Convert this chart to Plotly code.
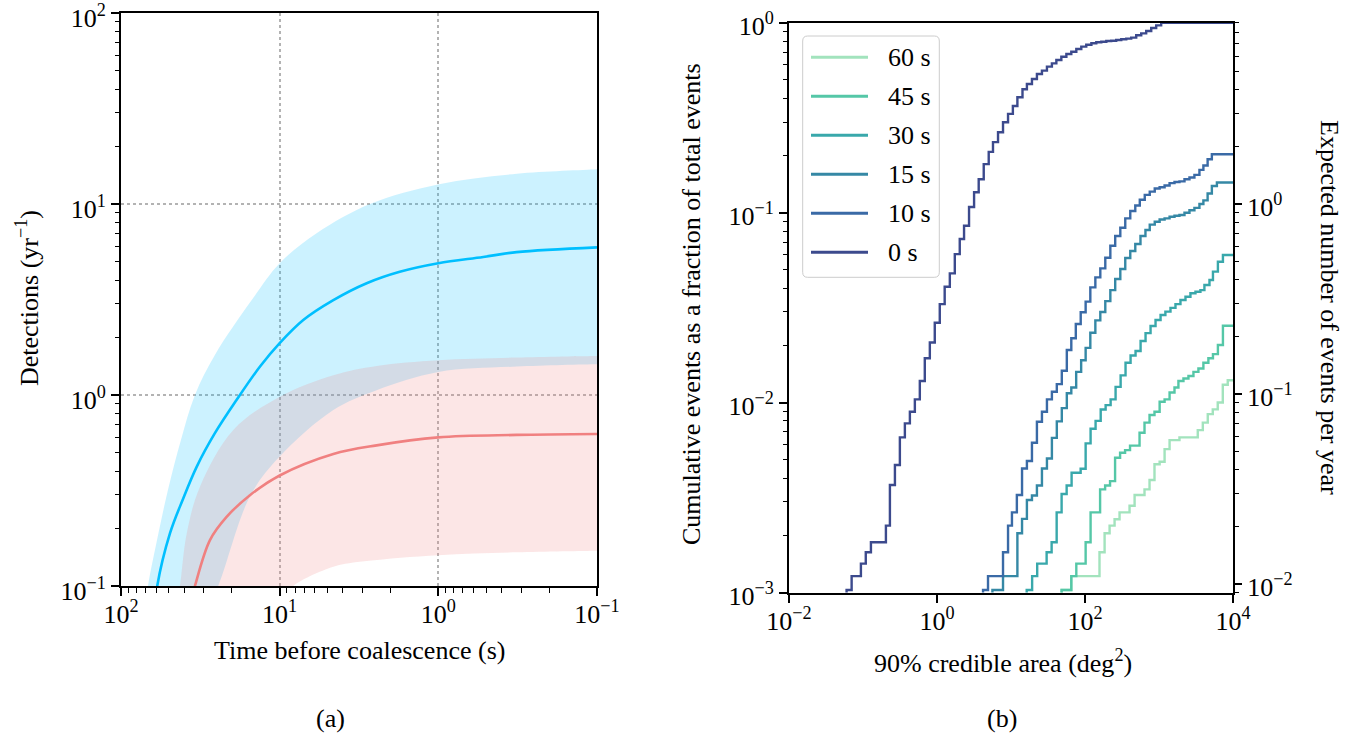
import math
import plotly.graph_objects as go

# ---------------- Panel (a) data ----------------
# blue curve (median) and band
t_blue = [63, 59.1, 49.1, 40.9, 33.3, 25.6, 18.7, 13.3, 10.0, 7.10, 4.59, 2.83, 1.75, 1.00, 0.521, 0.321, 0.100]
y_blue = [0.06, 0.100, 0.189, 0.282, 0.422, 0.631, 0.942, 1.41, 1.87, 2.47, 3.14, 3.85, 4.42, 4.90, 5.28, 5.60, 5.93]

t_blue_hi = [70.6, 67.6, 59.3, 50.6, 41.9, 34.2, 25.6, 15.0, 10.0, 5.82, 2.70, 0.99, 0.320, 0.100, 0.09]
y_blue_hi = [0.075, 0.100, 0.174, 0.318, 0.581, 1.00, 1.62, 3.14, 4.90, 7.05, 10.0, 12.7, 14.4, 15.2, 15.3]
t_blue_lo = [29.0, 24.4, 15.4, 10.0, 4.59, 2.45, 1.00, 0.321, 0.100, 0.09]
y_blue_lo = [0.075, 0.100, 0.294, 0.476, 0.834, 1.06, 1.32, 1.41, 1.45, 1.45]

# red curve (median) and band
t_red = [36.0, 34.2, 27.5, 21.6, 15.4, 10.0, 4.59, 2.45, 1.00, 0.321, 0.100]
y_red = [0.085, 0.100, 0.174, 0.230, 0.299, 0.379, 0.491, 0.545, 0.600, 0.618, 0.625]

t_red_hi = [45.0, 42.5, 38.5, 31.8, 19.6, 10.0, 4.59, 2.45, 1.00, 0.321, 0.100, 0.09]
y_red_hi = [0.075, 0.100, 0.189, 0.331, 0.656, 0.98, 1.27, 1.42, 1.52, 1.57, 1.60, 1.60]
t_red_lo = [9.0, 8.2, 4.59, 2.83, 1.00, 0.321, 0.100, 0.09]
y_red_lo = [0.09, 0.100, 0.126, 0.135, 0.145, 0.150, 0.153, 0.153]

# ---------------- Panel (b) data (cumulative step curves) ----------------
labels_b = ["60 s", "45 s", "30 s", "15 s", "10 s", "0 s"]
colors_b = ["#a2e3bd", "#55c7a7", "#39a8ab", "#3588a5", "#3a6aa6", "#3c4a8d"]

s60_x = [42, 48.3, 65.3, 157, 184, 215, 251, 293, 400, 468, 637, 745, 869, 1020, 1190, 1390, 1890, 3340, 3910, 4560, 5330, 6220, 7280, 8490, 10000]
s60_y = [0.0005, 0.00103, 0.00122, 0.00163, 0.00205, 0.00225, 0.00243, 0.00264, 0.00286, 0.00326, 0.00349, 0.00391, 0.00473, 0.00488, 0.00569, 0.00634, 0.00656, 0.00716, 0.00784, 0.00869, 0.00921, 0.0100, 0.0124, 0.0131, 0.0131]

s45_x = [42, 48.3, 65.3, 76.3, 102, 119, 160, 187, 218, 255, 298, 348, 406, 546, 637, 745, 869, 1020, 1190, 1390, 1620, 1830, 2140, 2500, 2920, 3410, 3980, 4650, 5360, 6250, 7310, 10000]
s45_y = [0.0005, 0.00103, 0.00122, 0.00142, 0.00184, 0.00264, 0.00349, 0.00366, 0.00386, 0.00512, 0.00544, 0.00562, 0.00593, 0.00694, 0.00784, 0.00860, 0.00895, 0.0101, 0.0104, 0.0113, 0.0120, 0.0130, 0.0134, 0.0138, 0.0145, 0.0151, 0.0162, 0.0171, 0.0180, 0.0201, 0.0254, 0.0254]

s30_x = [14, 16.3, 19.3, 22.6, 30.3, 35.4, 41.4, 48.3, 56.5, 65.9, 87.3, 102, 119, 139, 163, 190, 222, 259, 303, 353, 413, 482, 564, 658, 769, 898, 1050, 1220, 1430, 1670, 1950, 2280, 2660, 3110, 3630, 4110, 4810, 5360, 6250, 7310, 10000]
s30_y = [0.0005, 0.00103, 0.00122, 0.00142, 0.00163, 0.00184, 0.00264, 0.00330, 0.00366, 0.00427, 0.00448, 0.00610, 0.00728, 0.00801, 0.00919, 0.00970, 0.0104, 0.0121, 0.0139, 0.0162, 0.0177, 0.0187, 0.0211, 0.0232, 0.0253, 0.0272, 0.0289, 0.0301, 0.0315, 0.0330, 0.0347, 0.0361, 0.0376, 0.0383, 0.0391, 0.0416, 0.0442, 0.0489, 0.0551, 0.0598, 0.0598]

s15_x = [4.8, 5.61, 7.80, 12.2, 14.1, 16.4, 19.2, 22.4, 26.2, 30.6, 35.7, 41.6, 48.6, 56.8, 65.3, 76.0, 88.7, 102, 118, 138, 161, 188, 220, 256, 300, 350, 409, 478, 562, 656, 750, 876, 1020, 1190, 1390, 1620, 1890, 2210, 2580, 3010, 3520, 3980, 4540, 5180, 6060, 10000]
s15_y = [0.0005, 0.00103, 0.00122, 0.00205, 0.00244, 0.00307, 0.00324, 0.00366, 0.00450, 0.00508, 0.00652, 0.00796, 0.00935, 0.0112, 0.0120, 0.0145, 0.0167, 0.0194, 0.0233, 0.0271, 0.0300, 0.0342, 0.0391, 0.0447, 0.0505, 0.0577, 0.0628, 0.0684, 0.0753, 0.0810, 0.0865, 0.0895, 0.0920, 0.0933, 0.0951, 0.0963, 0.0971, 0.0998, 0.103, 0.106, 0.111, 0.116, 0.126, 0.138, 0.144, 0.144]

s10_x = [3.5, 4.19, 4.89, 7.80, 9.12, 10.3, 12.0, 14.1, 16.4, 19.2, 22.4, 26.2, 30.6, 35.7, 41.6, 48.6, 56.8, 65.3, 75.1, 87.5, 102, 118, 138, 161, 188, 220, 256, 300, 350, 409, 478, 550, 642, 750, 876, 1020, 1190, 1390, 1620, 1890, 2210, 2580, 3010, 3520, 3980, 4540, 5180, 10000]
s10_y = [0.0005, 0.00103, 0.00122, 0.00163, 0.00225, 0.00264, 0.00326, 0.00450, 0.00492, 0.00614, 0.00792, 0.00895, 0.0104, 0.0114, 0.0125, 0.0147, 0.0189, 0.0218, 0.0259, 0.0299, 0.0340, 0.0404, 0.0456, 0.0509, 0.0579, 0.0669, 0.0753, 0.0832, 0.0933, 0.102, 0.109, 0.117, 0.124, 0.129, 0.134, 0.136, 0.139, 0.143, 0.145, 0.146, 0.150, 0.153, 0.158, 0.168, 0.177, 0.191, 0.203, 0.203]

s0_x = [0.050, 0.0600, 0.0702, 0.0937, 0.109, 0.128, 0.204, 0.231, 0.270, 0.315, 0.368, 0.430, 0.502, 0.586, 0.684, 0.800, 0.933, 1.09, 1.27, 1.49, 1.74, 2.03, 2.32, 2.71, 3.17, 3.66, 4.28, 5.00, 5.71, 6.68, 7.80, 9.12, 10.6, 12.2, 14.3, 16.4, 19.2, 22.4, 26.2, 30.6, 35.7, 41.0, 47.9, 56.0, 65.3, 76.3, 89.1, 104, 122, 142, 166, 194, 226, 264, 309, 361, 421, 492, 575, 671, 785, 916, 1070, 10000]
s0_y = [0.0005, 0.00103, 0.00122, 0.00142, 0.00163, 0.00184, 0.00225, 0.00368, 0.00469, 0.00656, 0.00777, 0.00895, 0.0104, 0.0130, 0.0171, 0.0207, 0.0263, 0.0330, 0.0407, 0.0479, 0.0605, 0.0726, 0.0853, 0.107, 0.128, 0.150, 0.180, 0.209, 0.235, 0.265, 0.299, 0.331, 0.364, 0.405, 0.446, 0.476, 0.505, 0.537, 0.559, 0.587, 0.611, 0.636, 0.662, 0.684, 0.703, 0.727, 0.748, 0.766, 0.779, 0.789, 0.794, 0.801, 0.804, 0.811, 0.818, 0.824, 0.834, 0.859, 0.879, 0.904, 0.938, 0.968, 1.0, 1.0]

steps_x = [s60_x, s45_x, s30_x, s15_x, s10_x, s0_x]
steps_y = [s60_y, s45_y, s30_y, s15_y, s10_y, s0_y]

# total expected events per year (scale of the secondary axis)
events_total = 9.0

# ---------------- Figure ----------------
FONT = "Liberation Serif"
FS = 26
W, H = 1359, 738

fig = go.Figure()

# panel (a): bands
fig.add_trace(go.Scatter(x=t_blue_hi + t_blue_lo[::-1], y=y_blue_hi + y_blue_lo[::-1],
                         fill="toself", fillcolor="rgba(0,191,255,0.2)", line=dict(width=0, shape="spline", smoothing=1.0),
                         mode="lines", showlegend=False, hoverinfo="skip", xaxis="x", yaxis="y"))
fig.add_trace(go.Scatter(x=t_red_hi + t_red_lo[::-1], y=y_red_hi + y_red_lo[::-1],
                         fill="toself", fillcolor="rgba(240,128,128,0.2)", line=dict(width=0, shape="spline", smoothing=1.0),
                         mode="lines", showlegend=False, hoverinfo="skip", xaxis="x", yaxis="y"))
fig.add_trace(go.Scatter(x=t_blue, y=y_blue, mode="lines", line=dict(color="#00bfff", width=2.6, shape="spline", smoothing=1.0),
                         showlegend=False, xaxis="x", yaxis="y"))
fig.add_trace(go.Scatter(x=t_red, y=y_red, mode="lines", line=dict(color="#f08080", width=2.6, shape="spline", smoothing=1.0),
                         showlegend=False, xaxis="x", yaxis="y"))

# panel (b): cumulative step curves
for lab, col, xs, ys in zip(labels_b, colors_b, steps_x, steps_y):
    fig.add_trace(go.Scatter(x=xs, y=ys, mode="lines", name=lab, showlegend=False,
                             line=dict(color=col, width=2.4, shape="hv"),
                             xaxis="x2", yaxis="y2"))
# invisible trace to activate the secondary axis (expected events per year)
fig.add_trace(go.Scatter(x=[1], y=[events_total * 0.1], mode="markers", marker=dict(opacity=0), showlegend=False,
                         hoverinfo="skip", xaxis="x2", yaxis="y3"))


def sup(e):
    return "10<sup>" + ("\u2212" if e < 0 else "") + str(abs(e)) + "</sup>"


def minors(lo, hi):
    return [m * 10 ** e for e in range(lo, hi) for m in range(2, 10)]


def px_x(a, b):
    return [a / W, b / W]


def px_y(top, bottom):
    return [1 - bottom / H, 1 - top / H]


tick_common = dict(ticks="outside", ticklen=8, tickwidth=1.8, tickcolor="black",
                   showline=True, linecolor="black", linewidth=2, mirror=True, automargin=False,
                   ticklabeloverflow="allow",
                   tickfont=dict(family=FONT, size=FS, color="black"), zeroline=False)
minor_common = dict(ticks="outside", ticklen=4.5, tickwidth=1.2, tickcolor="black", showgrid=False)
grid_common = dict(showgrid=True, gridcolor="#b3b3b3", gridwidth=1.6, griddash="dot")

fig.update_layout(
    template="none",
    width=W, height=H, margin=dict(l=0, r=0, t=0, b=0, pad=0), autosize=False,
    paper_bgcolor="white", plot_bgcolor="white",
    font=dict(family=FONT, size=FS, color="black"),
    showlegend=False,
    xaxis=dict(type="log", range=[2, -1], domain=px_x(121, 597), anchor="y", ticklabelstandoff=-4,
               tickmode="array", tickvals=[100, 10, 1, 0.1], ticktext=[sup(2), sup(1), sup(0), sup(-1)],
               minor=dict(tickvals=minors(-1, 2), **minor_common), **grid_common, **tick_common),
    yaxis=dict(type="log", range=[-1, 2], domain=px_y(13, 586), anchor="x", ticklabelshift=5,
               tickmode="array", tickvals=[0.1, 1, 10, 100], ticktext=[sup(-1), sup(0), sup(1), sup(2)],
               minor=dict(tickvals=minors(-1, 2), **minor_common), **grid_common, **tick_common),
    xaxis2=dict(type="log", range=[-2, 4], domain=px_x(789, 1233), anchor="y2", ticklabelstandoff=-4,
                tickmode="array", tickvals=[0.01, 1, 100, 10000], ticktext=[sup(-2), sup(0), sup(2), sup(4)],
                showgrid=False, **tick_common),
    yaxis2=dict(type="log", range=[-3, 0], domain=px_y(22.7, 592.5), anchor="x2", ticklabelshift=3,
                tickmode="array", tickvals=[0.001, 0.01, 0.1, 1], ticktext=[sup(-3), sup(-2), sup(-1), sup(0)],
                minor=dict(tickvals=minors(-3, 0), **minor_common), showgrid=False, **tick_common),
    yaxis3=dict(type="log", overlaying="y2", side="right", anchor="x2", automargin=False, ticklabelshift=3,
                range=[-3 + math.log10(events_total), math.log10(events_total)],
                tickmode="array", tickvals=[0.01, 0.1, 1], ticktext=[sup(-2), sup(-1), sup(0)],
                minor=dict(tickvals=minors(-3, 1), **minor_common), ticklabeloverflow="allow",
                ticks="outside", ticklen=8, tickwidth=1.8, tickcolor="black", showline=False,
                tickfont=dict(family=FONT, size=FS, color="black"), showgrid=False, zeroline=False),
)

# legend for panel (b), drawn as a framed box with line samples
LX0, LX1, LY0, LY1, R = 802.7, 939.3, 36.0, 277.3, 5.0


def fx(v):
    return v / W


def fy(v):
    return 1 - v / H


box_path = (f"M{fx(LX0 + R)},{fy(LY0)} L{fx(LX1 - R)},{fy(LY0)} Q{fx(LX1)},{fy(LY0)} {fx(LX1)},{fy(LY0 + R)} "
            f"L{fx(LX1)},{fy(LY1 - R)} Q{fx(LX1)},{fy(LY1)} {fx(LX1 - R)},{fy(LY1)} "
            f"L{fx(LX0 + R)},{fy(LY1)} Q{fx(LX0)},{fy(LY1)} {fx(LX0)},{fy(LY1 - R)} "
            f"L{fx(LX0)},{fy(LY0 + R)} Q{fx(LX0)},{fy(LY0)} {fx(LX0 + R)},{fy(LY0)} Z")
fig.add_shape(type="path", path=box_path, xref="paper", yref="paper",
              fillcolor="rgba(255,255,255,0.85)", line=dict(color="#cccccc", width=1), layer="above")
for i, (lab, col) in enumerate(zip(labels_b, colors_b)):
    yc = 57.3 + 39.0 * i
    fig.add_shape(type="line", xref="paper", yref="paper", x0=fx(811), x1=fx(868), y0=fy(yc), y1=fy(yc),
                  line=dict(color=col, width=3), layer="above")
    fig.add_annotation(xref="paper", yref="paper", x=fx(886), y=fy(yc), text=lab, showarrow=False,
                       xanchor="left", yanchor="middle", font=dict(family=FONT, size=FS, color="black"))

ann = [
    dict(text="Detections (yr<sup>\u22121</sup>)", x=27 / W, y=1 - 298 / H, textangle=-90),
    dict(text="Time before coalescence (s)", x=359 / W, y=1 - 650 / H, textangle=0),
    dict(text="(a)", x=330 / W, y=1 - 718 / H, textangle=0),
    dict(text="Cumulative events as a fraction of total events", x=691 / W, y=1 - 304 / H, textangle=-90),
    dict(text="90% credible area (deg<sup>2</sup>)", x=1003 / W, y=1 - 661 / H, textangle=0),
    dict(text="Expected number of events per year", x=1330 / W, y=1 - 307 / H, textangle=90),
    dict(text="(b)", x=1002 / W, y=1 - 718 / H, textangle=0),
]
for a in ann:
    fig.add_annotation(xref="paper", yref="paper", xanchor="center", yanchor="middle", showarrow=False,
                       font=dict(family=FONT, size=FS, color="black"), **a)

fig.write_html("out.html", config={"displayModeBar": False},
               post_script="document.body.style.margin='0';")
